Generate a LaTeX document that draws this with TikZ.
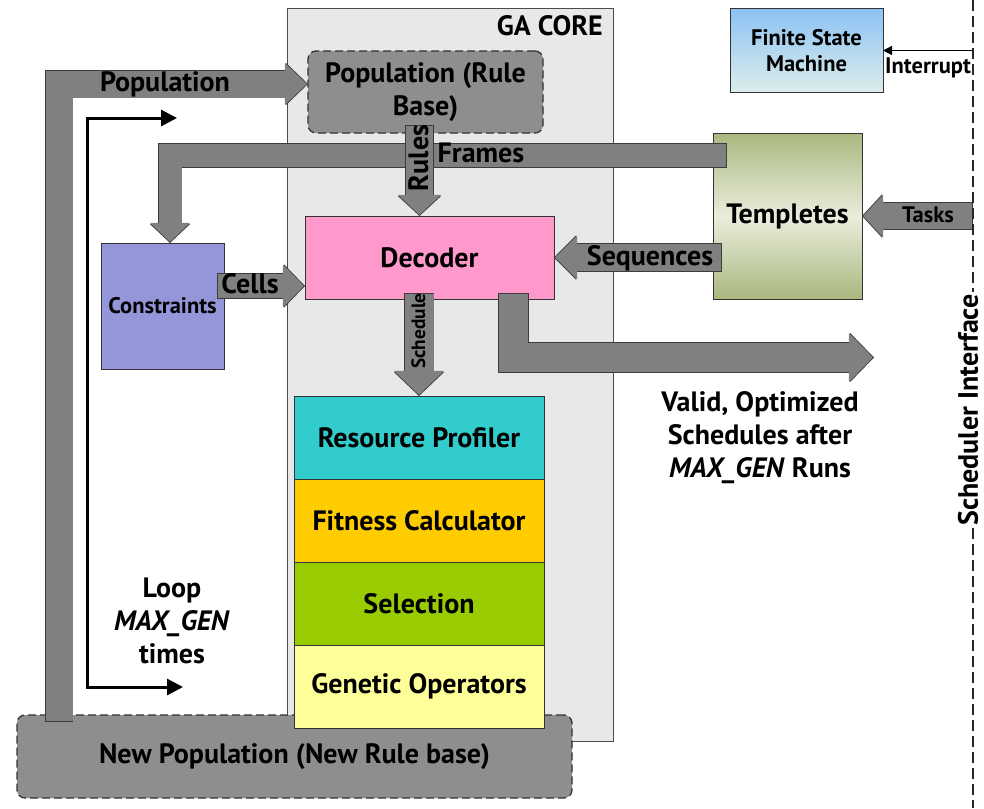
\documentclass[tikz,border=0pt]{standalone}
\usepackage{fontspec}
\setmainfont{PT Sans}
\usepackage{tikz}
\usetikzlibrary{arrows.meta,positioning,calc}
\definecolor{coregray}{HTML}{E8E8E8}
\definecolor{boxgray}{HTML}{8E8E8E}
\definecolor{arrgray}{HTML}{808080}
\definecolor{arrline}{HTML}{3C3C3C}
\definecolor{decpink}{HTML}{FF99CC}
\definecolor{conblue}{HTML}{9595DA}
\definecolor{rpcyan}{HTML}{33CCCC}
\definecolor{fcgold}{HTML}{FFCC00}
\definecolor{selgreen}{HTML}{99CC00}
\definecolor{gopale}{HTML}{FFFF99}
\definecolor{fsmtop}{HTML}{8DC2F4}
\definecolor{fsmbot}{HTML}{DCEDEA}
\definecolor{tmpedge}{HTML}{A9B87F}
\definecolor{tmpmid}{HTML}{EAEDDC}
\newcommand{\bigf}{\fontsize{28}{33}\selectfont\bfseries}
\newcommand{\smf}{\fontsize{22.5}{26}\selectfont\bfseries}
\newcommand{\tinyf}{\fontsize{19.3}{21}\selectfont\bfseries}
\newcommand{\MAXGEN}{\textit{MAX\_GEN}}
\tikzset{
  blockbox/.style={draw=black!80, line width=1pt, outer sep=0pt,
    align=center, font=\bigf},
  popbox/.style={blockbox, rounded corners=8pt, fill=boxgray,
    line width=1.3pt, dash pattern=on 8pt off 4pt},
  stackbox/.style={blockbox, minimum width=250pt, minimum height=83pt},
  fat/.style n args={3}{draw=arrgray, line width=#1pt, line join=miter,
    -{Triangle[width=#2pt, length=#3pt, line width=0pt]},
    shorten >=1.1pt, shorten <=0.8pt,
    preaction={draw=arrline, line width=#1pt+1.6pt,
      shorten >=0pt, shorten <=0pt,
      -{Triangle[width=#2pt, length=#3pt, line width=1.6pt]}}},
  looparr/.style={line width=3pt,
    {Triangle[length=16pt,width=16pt]}-{Triangle[length=16pt,width=16pt]}},
  intarr/.style={line width=1.3pt, -{Triangle[length=9pt,width=9pt]}},
  sifline/.style={draw=black!85, line width=2.5pt, dash pattern=on 11pt off 5pt},
  lbl/.style={font=\bigf, inner sep=0pt},
}
\begin{document}
\begin{tikzpicture}[x=1pt, y=-1pt]
  \fill[white] (0,0) rectangle (984,808);
  \useasboundingbox (0,0) rectangle (984,808);

  % GA core and the blocks
  \node[draw=black!70, line width=0.9pt, fill=coregray, outer sep=0pt,
        minimum width=326pt, minimum height=733pt] (core) at (450,374.5) {};
  \node[lbl, anchor=base east] (corelbl) at (603,36) {GA CORE};
  \node[popbox, minimum width=555pt, minimum height=83pt] (newpop) at (294.5,756.5)
    {New Population (New Rule base)};
  \node[stackbox, fill=rpcyan] (rp) at (419,437.5) {Resource Profiler};
  \node[stackbox, fill=fcgold, below=0pt of rp] (fc) {Fitness Calculator};
  \node[stackbox, fill=selgreen, below=0pt of fc] (sel) {Selection};
  \node[stackbox, fill=gopale, below=0pt of sel] (go) {Genetic Operators};
  \node[popbox, minimum width=235pt, minimum height=82pt] (pop) at (425.5,92)
    {Population (Rule\\Base)};
  \node[blockbox, fill=decpink, minimum width=249pt, minimum height=83pt] (dec)
    at (429.5,257.5) {Decoder};
  \node[blockbox, fill=conblue, font=\smf, minimum width=123pt, minimum height=126pt] (con)
    at (162.5,306) {Constraints};
  \node[blockbox, top color=tmpedge, bottom color=tmpedge, middle color=tmpmid,
        minimum width=149pt, minimum height=166pt] (tmp) at (787.5,216) {Templetes};
  \node[blockbox, top color=fsmtop, bottom color=fsmbot, font=\smf,
        minimum width=153pt, minimum height=83pt] (fsm) at (806.5,50.5) {Finite State\\Machine};

  \coordinate (sitop) at (973,0);
  \coordinate (sibot) at (973,808);
  \coordinate (outtip) at (874,357.5);
  \coordinate (looptop) at (177,118);
  \coordinate (loopbot) at (183,687);

  % fat arrows
  \draw[fat={23}{40}{19}] (727,155.5) -| ($(con.north)+(7.5,0)$);
  \draw[fat={27}{43}{20}] ($(pop.south)+(-6,-8)$) -- ($(dec.north)+(-10,0)$);
  \draw[fat={27}{44}{22}] ($(tmp.west)+(9,41.5)$) -- (dec.east);
  \draw[fat={24}{43}{21}] ($(con.east)+(-7,-20)$) -- ($(dec.west)+(0,28.5)$);
  \draw[fat={29}{50}{24}] ($(rp.north |- dec.south)+(0,-6)$) -- (rp.north);
  \draw[fat={29}{49}{24}] ($(dec.south)+(84,-6)$) |- (outtip);
  \draw[fat={27}{42}{22}] ($(newpop.north west)+(42,7)$) |- ($(pop.west)+(0,-8)$);
  \draw[fat={26}{43}{20}] (sitop |- tmp.east) -- (tmp.east);

  % loop and interface
  \draw[looparr] (looptop) -| (87,400) |- (loopbot);
  \draw[sifline] (sitop) -- (sibot);
  \draw[intarr] (sitop |- fsm.east) -- (fsm.east);
  \node[lbl, rotate=90, fill=white, inner sep=2pt] (siflbl) at (968,410) {Scheduler Interface};

  % labels
  \node[lbl, anchor=base] (poplbl) at (165,91) {Population};
  \node[lbl, anchor=base] (frmlbl) at (481,162) {Frames};
  \node[lbl, anchor=base, rotate=90] (rulelbl) at (428,158) {Rules};
  \node[lbl, anchor=base] (celllbl) at (250,293) {Cells};
  \node[lbl, anchor=base] (seqlbl) at (650,265) {Sequences};
  \node[lbl, anchor=base, font=\smf] (tasklbl) at (928,222) {Tasks};
  \node[lbl, anchor=base, font=\smf] (intlbl) at (928,73) {Interrupt};
  \node[lbl, anchor=base, font=\tinyf, rotate=90] (schedlbl) at (425,331) {Schedule};
  \node[lbl, align=center] (outlbl) at (760,438) {Valid, Optimized\\Schedules after\\\MAXGEN{} Runs};
  \node[lbl, align=center] (looplbl) at (172,621) {Loop\\\MAXGEN\\times};
\end{tikzpicture}
\end{document}
